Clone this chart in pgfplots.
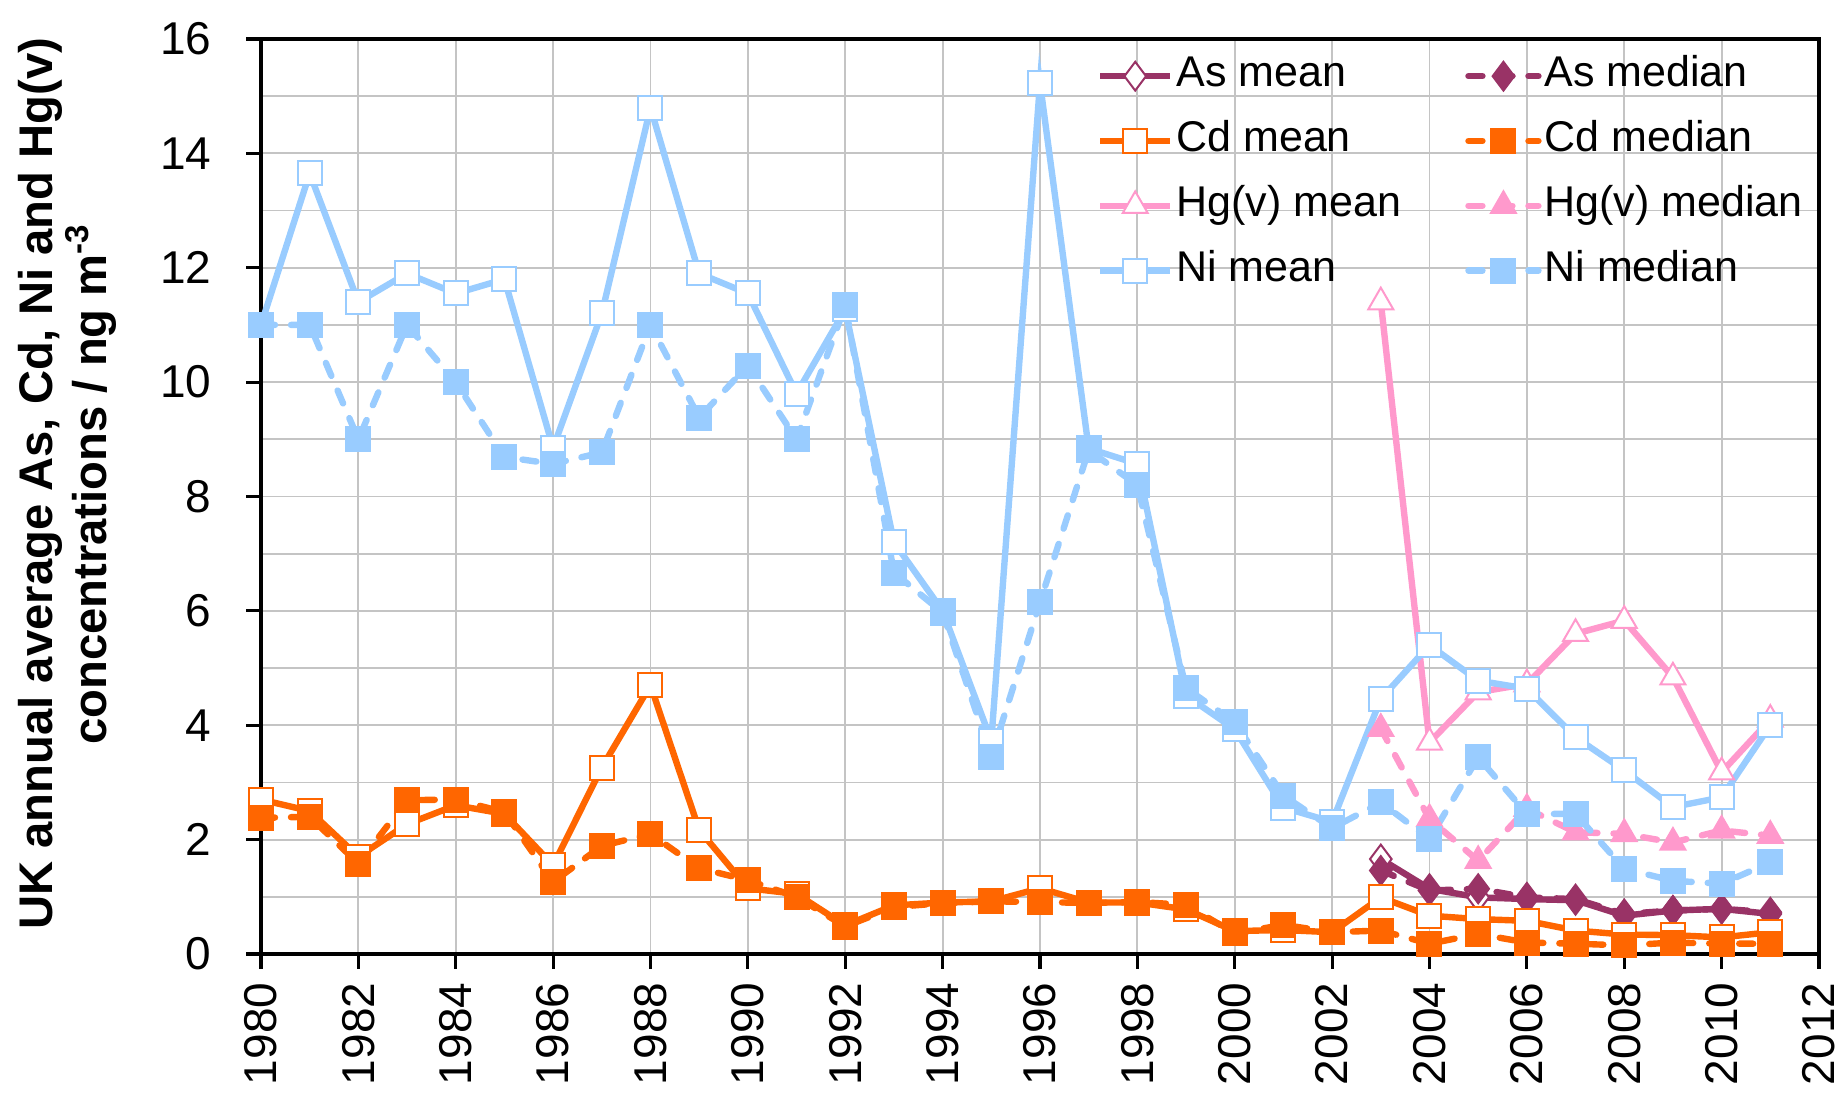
\documentclass[border=0pt]{standalone}
\usepackage{pgfplots}
\pgfplotsset{compat=1.18}
\usepackage{pgfplotstable}
\usepackage{fontspec}
\setmainfont{Liberation Sans}
\definecolor{AsC}{HTML}{993366}
\definecolor{CdC}{HTML}{FF6600}
\definecolor{HgC}{HTML}{FF99CC}
\definecolor{NiC}{HTML}{99CCFF}
\definecolor{GridC}{HTML}{C4C4C4}

\pgfplotstableread{
year NiMean NiMed CdMean CdMed
1980 11.00 11.00 2.70 2.38
1981 13.65 11.00 2.50 2.40
1982 11.40 9.00 1.70 1.58
1983 11.90 11.00 2.27 2.69
1984 11.55 10.00 2.60 2.70
1985 11.80 8.69 2.45 2.48
1986 8.85 8.57 1.55 1.26
1987 11.20 8.77 3.26 1.89
1988 14.80 11.00 4.70 2.10
1989 11.90 9.38 2.17 1.50
1990 11.55 10.29 1.15 1.29
1991 9.80 9.00 1.05 1.00
1992 11.27 11.34 0.50 0.48
1993 7.20 6.67 0.85 0.82
1994 6.00 5.97 0.90 0.89
1995 3.73 3.45 0.92 0.92
1996 15.23 6.15 1.15 0.91
1997 8.84 8.81 0.90 0.89
1998 8.57 8.20 0.90 0.91
1999 4.52 4.65 0.78 0.86
2000 3.93 4.05 0.40 0.36
2001 2.56 2.77 0.42 0.51
2002 2.31 2.20 0.38 0.38
2003 4.46 2.65 0.99 0.41
2004 5.40 2.01 0.67 0.18
2005 4.78 3.44 0.61 0.35
2006 4.64 2.45 0.58 0.20
2007 3.79 2.45 0.41 0.18
2008 3.21 1.49 0.34 0.15
2009 2.57 1.28 0.33 0.20
2010 2.74 1.23 0.29 0.18
2011 4.00 1.60 0.38 0.18
}\tableA

\pgfplotstableread{
year AsMean AsMed HgMean HgMed
2003 1.66 1.46 11.40 3.94
2004 1.14 1.11 3.70 2.36
2005 0.99 1.14 4.58 1.63
2006 0.96 0.99 4.72 2.54
2007 0.94 0.96 5.60 2.13
2008 0.67 0.70 5.83 2.10
2009 0.76 0.76 4.84 1.95
2010 0.79 0.79 3.18 2.16
2011 0.70 0.73 4.10 2.07
}\tableB

\begin{document}
\begin{tikzpicture}
\useasboundingbox (-65.25pt,-37.25pt) rectangle (396pt,238.5pt);
\begin{axis}[
  scale only axis,
  width=389.5pt, height=228.75pt,
  xmin=1980, xmax=2012, ymin=0, ymax=16,
  xtick={1980,1982,...,2012},
  ytick={0,2,...,16},
  minor ytick={1,3,...,15},
  xmajorgrids, ymajorgrids, yminorgrids,
  major grid style={GridC, line width=0.45pt},
  minor grid style={GridC, line width=0.45pt},
  axis line style={black, line width=0.8pt},
  major tick style={black, line width=0.8pt},
  major tick length=3.75pt, minor tick length=0pt,
  tick align=outside, tick pos=left,
  /pgf/number format/assume math mode=true,
  /pgf/number format/1000 sep={},
  xticklabel style={yshift=-3.25pt, rotate=90, anchor=east, font=\fontsize{11.5}{13}\selectfont, inner sep=0pt},
  yticklabel style={font=\fontsize{11.5}{13}\selectfont, inner sep=0pt, xshift=-8.5pt},
  ylabel={UK annual average As, Cd, Ni and Hg(v)\\concentrations / ng m\textsuperscript{-3}},
  ylabel style={at={(axis description cs:-0.0924,0.514)}, anchor=south, inner sep=0pt, align=center, font=\bfseries\fontsize{11.8}{13.5}\selectfont},
  legend columns=2,
  legend cell align=left,
  legend style={at={(axis description cs:0.5284,1.0044)}, anchor=north west, draw=none, fill=none,
    font=\fontsize{10.75}{12}\selectfont,
    nodes={text height=7.8pt, text depth=2.4pt, inner ysep=3.0pt, inner xsep=0.75pt},
    /tikz/every even column/.append style={column sep=15.3pt}},
  legend image code/.code={\draw[mark repeat=2,mark phase=2,#1] plot coordinates {(0pt,0pt) (8.75pt,0pt) (17.5pt,0pt)};},
  every axis plot/.append style={line width=1.6pt},
]
\addplot[AsC, solid, mark=diamond*, mark size=3.6pt, mark options={solid, fill=white, draw=AsC, line width=0.5pt}] table[x=year,y=AsMean] {\tableB};
\addlegendentry{As mean}
\addplot[AsC, dash pattern=on 3.5pt off 4pt, line cap=round, mark=diamond*, mark size=3.6pt, mark options={solid, fill=AsC, draw=AsC, line width=0.5pt}] table[x=year,y=AsMed] {\tableB};
\addlegendentry{As median}
\addplot[CdC, solid, mark=square*, mark size=3pt, mark options={solid, fill=white, draw=CdC, line width=0.5pt}] table[x=year,y=CdMean] {\tableA};
\addlegendentry{Cd mean}
\addplot[CdC, dash pattern=on 3.5pt off 4pt, line cap=round, mark=square*, mark size=3pt, mark options={solid, fill=CdC, draw=CdC, line width=0.5pt}] table[x=year,y=CdMed] {\tableA};
\addlegendentry{Cd median}
\addplot[HgC, solid, mark=triangle*, mark size=3.6pt, mark options={solid, fill=white, draw=HgC, line width=0.5pt}] table[x=year,y=HgMean] {\tableB};
\addlegendentry{Hg(v) mean}
\addplot[HgC, dash pattern=on 3.5pt off 4pt, line cap=round, mark=triangle*, mark size=3.6pt, mark options={solid, fill=HgC, draw=HgC, line width=0.5pt}] table[x=year,y=HgMed] {\tableB};
\addlegendentry{Hg(v) median}
\addplot[NiC, solid, mark=square*, mark size=3pt, mark options={solid, fill=white, draw=NiC, line width=0.5pt}] table[x=year,y=NiMean] {\tableA};
\addlegendentry{Ni mean}
\addplot[NiC, dash pattern=on 3.5pt off 4pt, line cap=round, mark=square*, mark size=3pt, mark options={solid, fill=NiC, draw=NiC, line width=0.5pt}] table[x=year,y=NiMed] {\tableA};
\addlegendentry{Ni median}
\end{axis}
\end{tikzpicture}
\end{document}
